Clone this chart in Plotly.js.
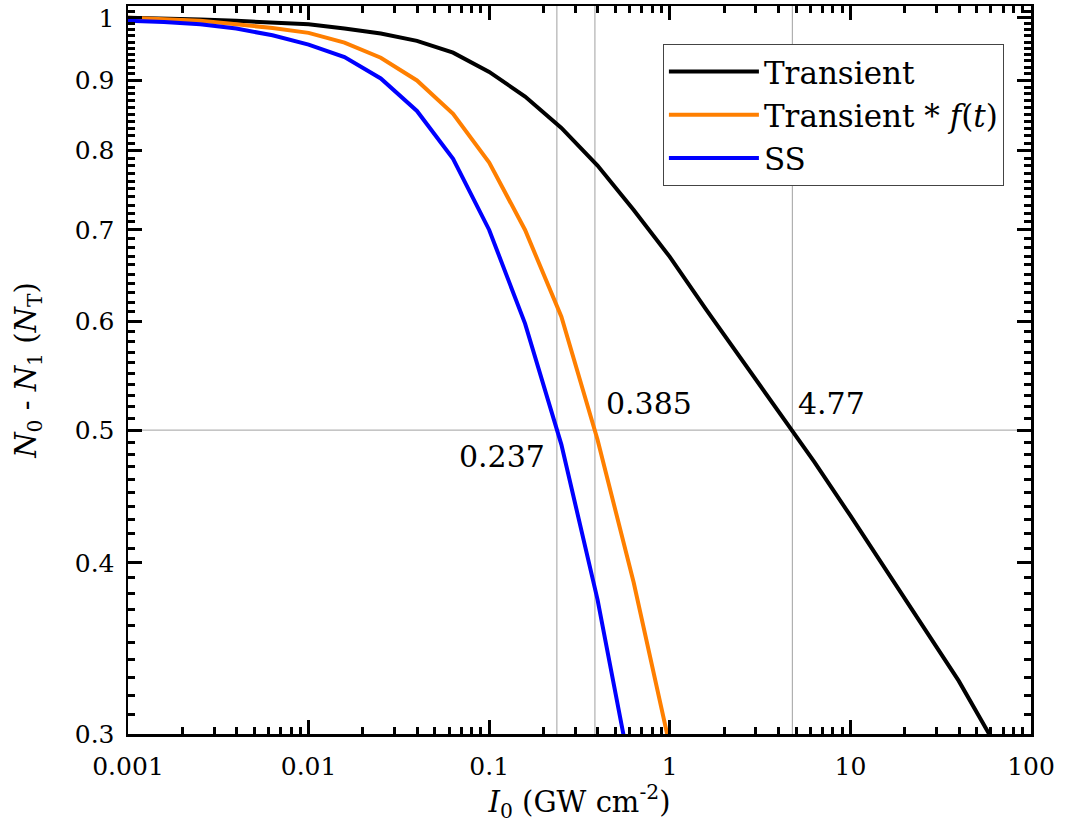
<!DOCTYPE html>
<html>
<head>
<meta charset="utf-8">
<script src="https://cdn.plot.ly/plotly-3.0.1.min.js"></script>
<style>html,body{margin:0;padding:0;background:#fff;}#chart{width:1065px;height:823px;}</style>
</head>
<body>
<div id="chart"></div>
<script>
// Intensity I0 (GW cm^-2)
const intensity = [0.001, 0.00158, 0.00251, 0.00398, 0.00631, 0.01, 0.0158, 0.0251, 0.0398, 0.0631,
  0.1, 0.158, 0.251, 0.398, 0.631, 1.0, 1.58, 2.51, 3.98, 6.31, 10, 15.8, 25.1, 39.8, 63.1];
// N0 - N1 (NT)
const transient = [1.0, 0.999, 0.997, 0.995, 0.992, 0.989, 0.982, 0.974, 0.962, 0.943,
  0.913, 0.876, 0.831, 0.780, 0.724, 0.669, 0.613, 0.563, 0.516, 0.474, 0.433, 0.395, 0.360, 0.328, 0.295];
const transientF = [1.0, 0.998, 0.995, 0.989, 0.983, 0.975, 0.959, 0.935, 0.900, 0.851,
  0.784, 0.700, 0.605, 0.492, 0.387, 0.294];
const steadyState = [0.995, 0.993, 0.989, 0.982, 0.971, 0.956, 0.936, 0.903, 0.855, 0.789,
  0.700, 0.598, 0.488, 0.376, 0.274];
const seriesNames = ['Transient', 'Transient * <i>f</i>(<i>t</i>)', 'SS'];
// Half-saturation intensities and level
const halfPoints = [0.237, 0.385, 4.77];
const halfLabels = ['0.237', '0.385', '4.77'];
const halfLevel = 0.5;
const yTickVals = [0.3, 0.4, 0.5, 0.6, 0.7, 0.8, 0.9, 1];
const yTickText = ['0.3', '0.4', '0.5', '0.6', '0.7', '0.8', '0.9', '1'];
const xTickVals = [0.001, 0.01, 0.1, 1, 10, 100];
const xTickText = ['0.001', '0.01', '0.1', '1', '10', '100'];

const FONT = 'DejaVu Serif';
const colors = ['#000000', '#ff7f00', '#0000ff'];

const traces = [
  {x: intensity.slice(0, transient.length), y: transient, name: seriesNames[0]},
  {x: intensity.slice(0, transientF.length), y: transientF, name: seriesNames[1]},
  {x: intensity.slice(0, steadyState.length), y: steadyState, name: seriesNames[2]}
].map((t, i) => Object.assign(t, {type: 'scatter', mode: 'lines', line: {color: colors[i], width: 4}}));

// minor tick positions (axis decoration)
const yMinor = [];
for (let k = 30; k <= 102; k++) yMinor.push(k / 100);
const xMinor = [];
for (let e = -3; e < 2; e++) for (let d = 2; d <= 9; d++) xMinor.push(d * Math.pow(10, e));

const shapes = halfPoints.map(v => ({type: 'line', xref: 'x', yref: 'paper', x0: v, x1: v, y0: 0, y1: 1,
  line: {color: '#a0a0a0', width: 1}, layer: 'below'}));
shapes.push({type: 'line', xref: 'paper', yref: 'y', x0: 0, x1: 1, y0: halfLevel, y1: halfLevel,
  line: {color: '#a0a0a0', width: 1}, layer: 'below'});

const annFont = {family: FONT, size: 30, color: '#000'};
const annotations = [
  {x: Math.log10(halfPoints[0]), y: Math.log10(halfLevel), text: halfLabels[0], xanchor: 'right', yanchor: 'middle', xshift: -10, yshift: -26},
  {x: Math.log10(halfPoints[1]), y: Math.log10(halfLevel), text: halfLabels[1], xanchor: 'left', yanchor: 'middle', xshift: 9, yshift: 27},
  {x: Math.log10(halfPoints[2]), y: Math.log10(halfLevel), text: halfLabels[2], xanchor: 'left', yanchor: 'middle', xshift: 4, yshift: 27}
].map(a => Object.assign(a, {xref: 'x', yref: 'y', showarrow: false, font: annFont}));

function tickStyle(c) { return {ticks: 'inside', tickcolor: c, tickwidth: 3, ticklen: 14, showgrid: false, zeroline: false}; }
function minorStyle(c) { return {ticks: 'inside', ticklen: 7, tickwidth: 3, tickcolor: c, tickmode: 'array', showgrid: false}; }
const labelFont = {family: FONT, size: 25, color: '#000'};
const titleFont = {family: FONT, size: 29, color: '#000'};
const xRange = [-3, 2];
const yRange = [Math.log10(0.3), Math.log10(1.02)];

// tick-only overlay axes (draw the inside ticks on all four sides)
function tickAxisX(side, c) {
  return Object.assign({}, tickStyle(c), {type: 'log', range: xRange, overlaying: 'x', side: side, anchor: 'y',
    tickmode: 'array', tickvals: xTickVals, showticklabels: false, showline: false,
    minor: Object.assign({tickvals: xMinor}, minorStyle(c))});
}
function tickAxisY(side, c) {
  return Object.assign({}, tickStyle(c), {type: 'log', range: yRange, overlaying: 'y', side: side, anchor: 'x',
    tickmode: 'array', tickvals: yTickVals, showticklabels: false, showline: false,
    minor: Object.assign({tickvals: yMinor}, minorStyle(c))});
}

const layout = {
  width: 1065, height: 823,
  margin: {l: 128, r: 34, t: 6, b: 89},
  paper_bgcolor: '#fff', plot_bgcolor: '#fff',
  font: {family: FONT, color: '#000'},
  showlegend: true,
  legend: {x: 0.970, xanchor: 'right', y: 0.948, yanchor: 'top', bgcolor: '#fff',
    bordercolor: '#444', borderwidth: 1, itemwidth: 90, tracegroupgap: 0,
    font: {family: FONT, size: 31, color: '#000'}},
  xaxis: Object.assign({}, tickStyle('#000'), {
    type: 'log', range: xRange, tickmode: 'array', tickvals: xTickVals, ticktext: xTickText,
    showline: true, linecolor: '#000', linewidth: 2.5, mirror: true,
    tickfont: labelFont, ticklabelstandoff: 8,
    minor: Object.assign({tickvals: xMinor}, minorStyle('#000')),
    title: {text: '<i>I</i><sub>0</sub> (GW cm<sup>-2</sup>)', font: titleFont, standoff: 4}
  }),
  yaxis: Object.assign({}, tickStyle('#000'), {
    type: 'log', range: yRange, tickmode: 'array', tickvals: yTickVals, ticktext: yTickText,
    showline: true, linecolor: '#000', linewidth: 2.5, mirror: true,
    tickfont: labelFont, ticklabelstandoff: 6,
    minor: Object.assign({tickvals: yMinor}, minorStyle('#000')),
    title: {text: '<i>N</i><sub>0</sub> - <i>N</i><sub>1</sub> (<i>N</i><sub>T</sub>)', font: titleFont, standoff: 30}
  }),
  xaxis2: tickAxisX('top', '#000'),
  xaxis3: tickAxisX('bottom', '#000'),
  yaxis2: tickAxisY('right', '#000'),
  yaxis3: tickAxisY('left', '#000'),
  shapes: shapes,
  annotations: annotations
};

// invisible helper traces to activate the tick-only axes
[['x2', 'y2'], ['x3', 'y3']].forEach(p => traces.push({type: 'scatter', mode: 'lines', x: [xTickVals[0]], y: [yTickVals[0]],
  xaxis: p[0], yaxis: p[1], showlegend: false, hoverinfo: 'skip', line: {color: 'rgba(0,0,0,0)'}}));

Plotly.newPlot('chart', traces, layout, {displayModeBar: false, staticPlot: true});
</script>
</body>
</html>
